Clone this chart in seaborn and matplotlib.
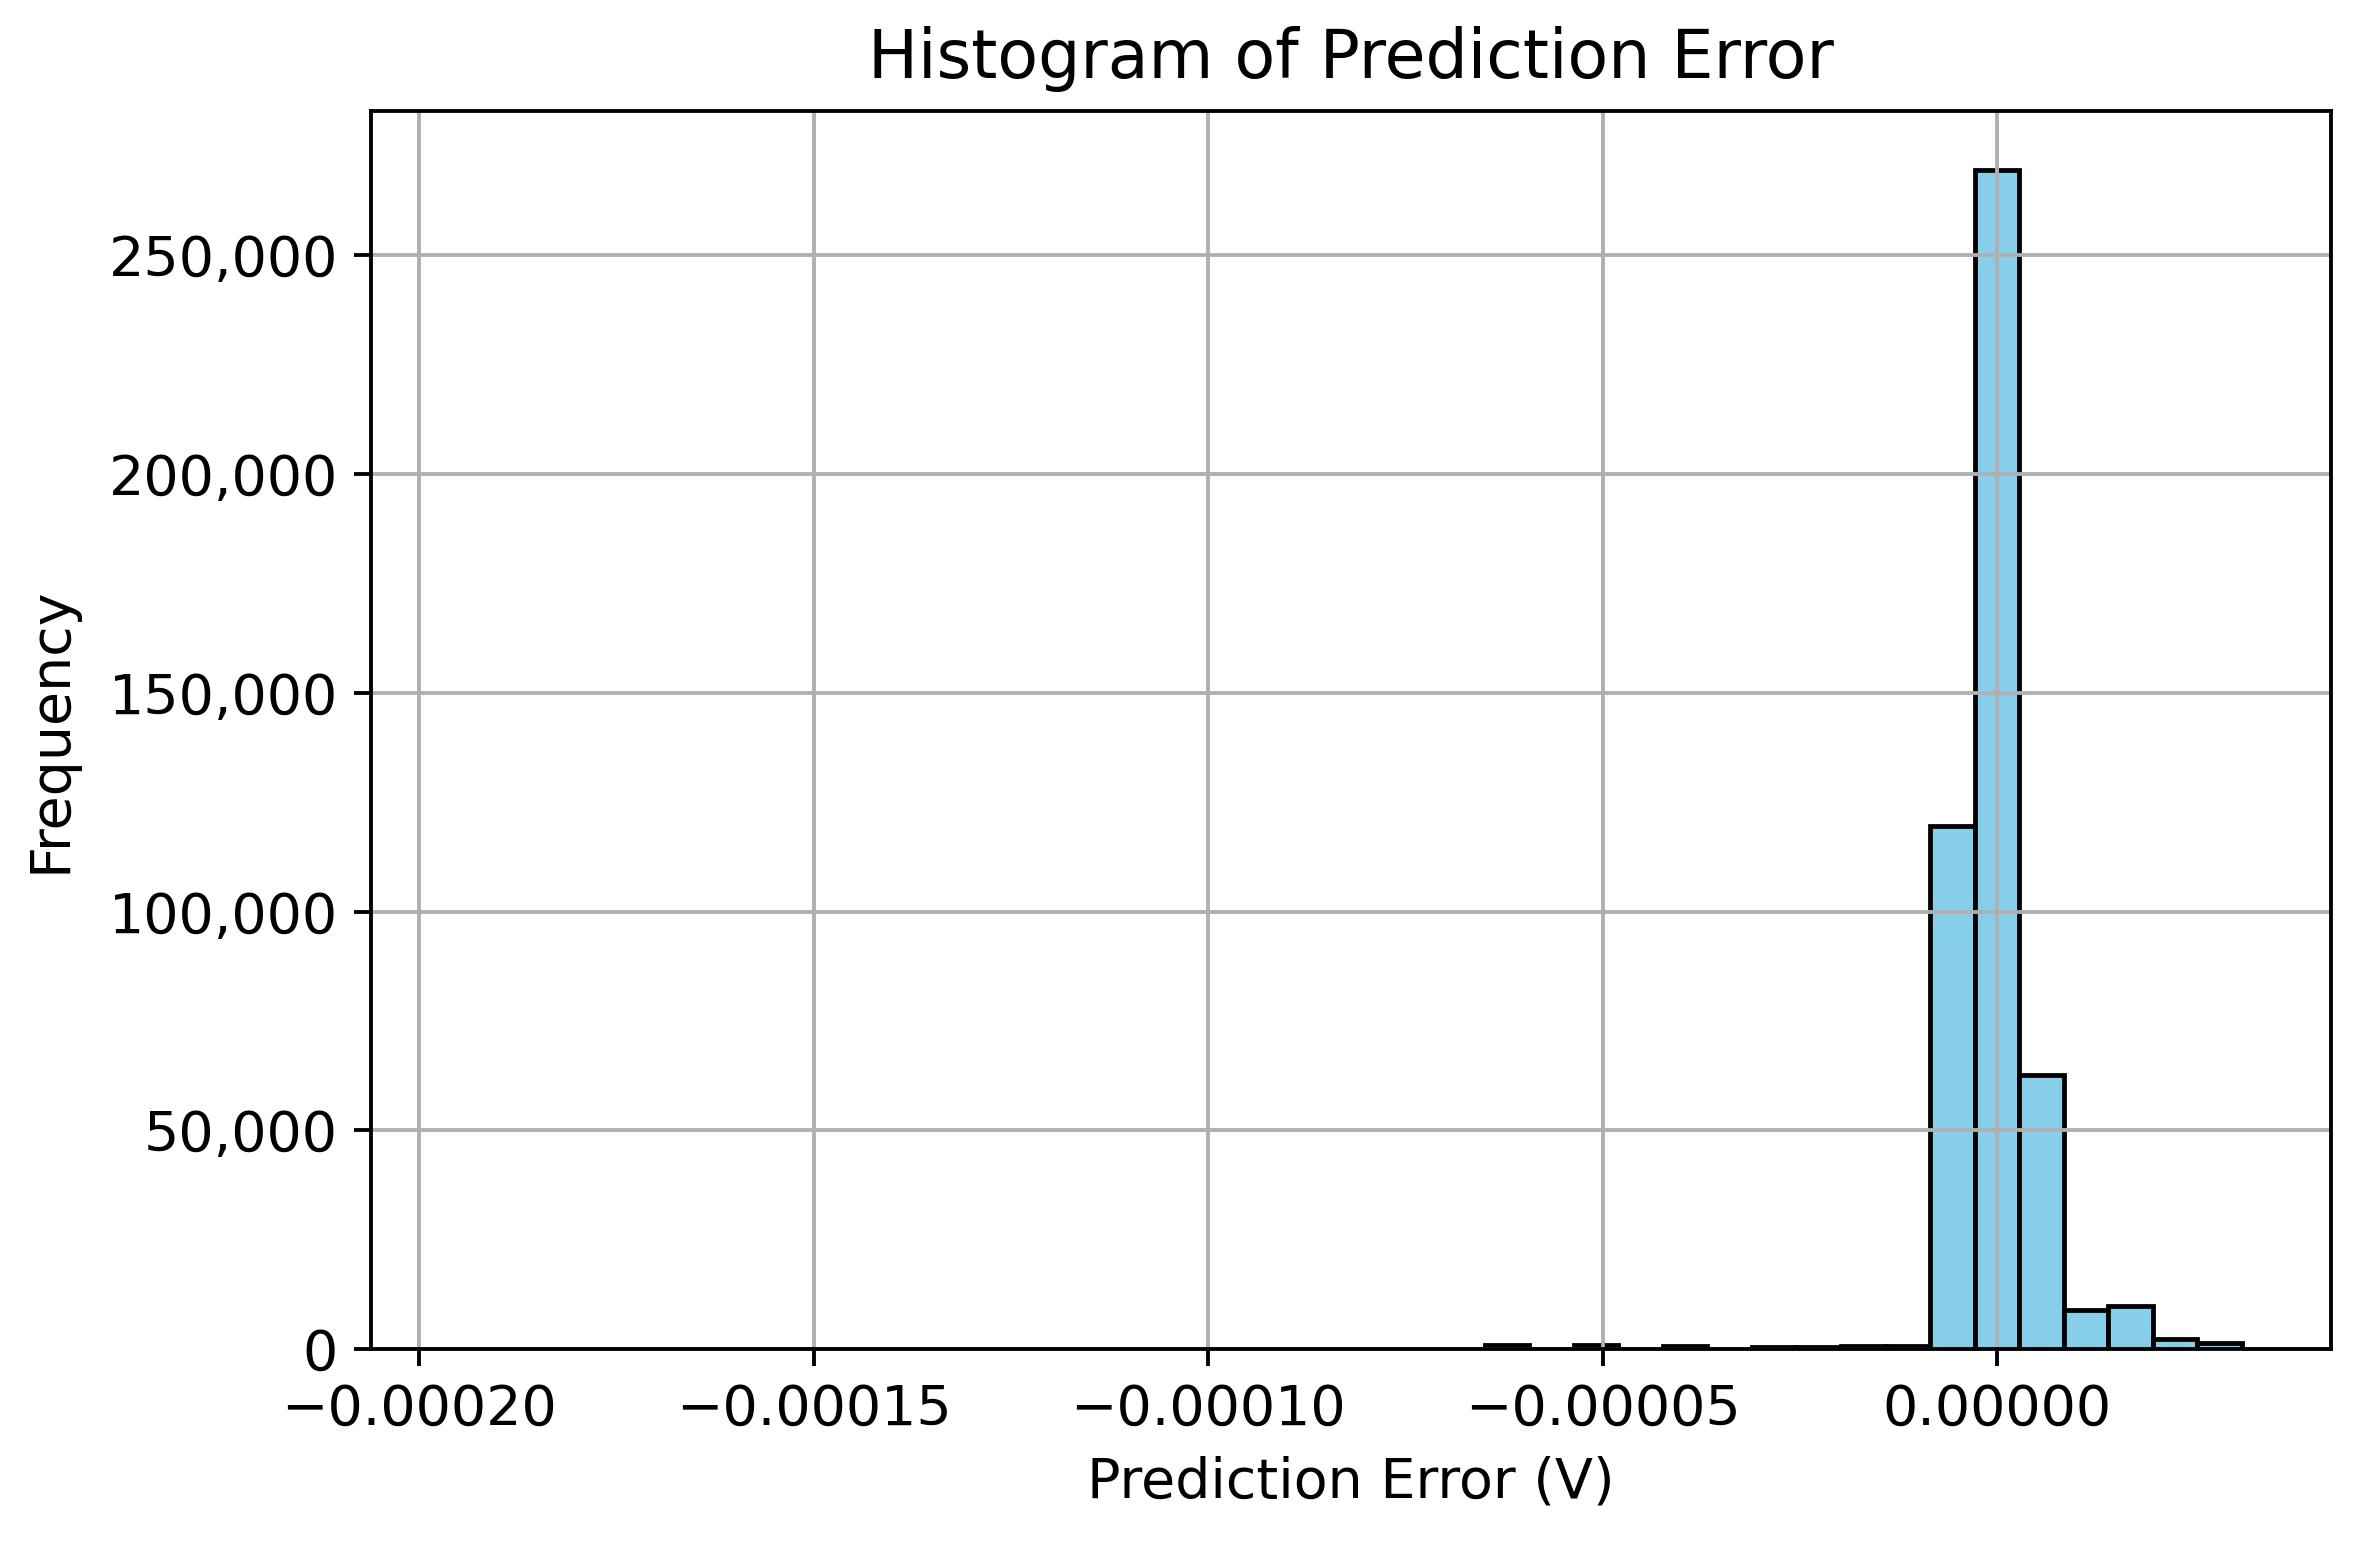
import numpy as np
import pandas as pd
import seaborn as sns
import matplotlib.pyplot as plt
from matplotlib.ticker import FuncFormatter

# Histogram: 40 equal bins between the min and max error
err_min = -194.8e-6
err_max = 31.0e-6
counts = [
    3, 0, 0, 0, 0, 0, 0, 0, 0, 0,
    0, 0, 0, 0, 0, 0, 0, 0, 0, 0,
    0, 0, 0, 900, 40, 850, 50, 800, 60, 550,
    550, 600, 650, 119600, 269500, 62600, 8900, 9800, 2400, 1450,
]

edges = np.linspace(err_min, err_max, len(counts) + 1)
df = pd.DataFrame({'error': (edges[:-1] + edges[1:]) / 2, 'count': counts})

plt.rcParams['font.size'] = 11.6

dpi = 345
fig, ax = plt.subplots(figsize=(2358 / dpi, 1543 / dpi), dpi=dpi)
fig.subplots_adjust(left=0.1575, right=0.9885, bottom=0.1257, top=0.928)

sns.histplot(data=df, x='error', weights='count', bins=list(edges), color='skyblue',
             edgecolor='black', linewidth=1, alpha=1, ax=ax)

ax.set_title('Histogram of Prediction Error', pad=7)
ax.set_xlabel('Prediction Error (V)')
ax.set_ylabel('Frequency', labelpad=6.5)
ax.yaxis.set_major_formatter(FuncFormatter(lambda v, p: f'{v:,.0f}'))
ax.grid(True)

fig.savefig('out.png', dpi=dpi)
